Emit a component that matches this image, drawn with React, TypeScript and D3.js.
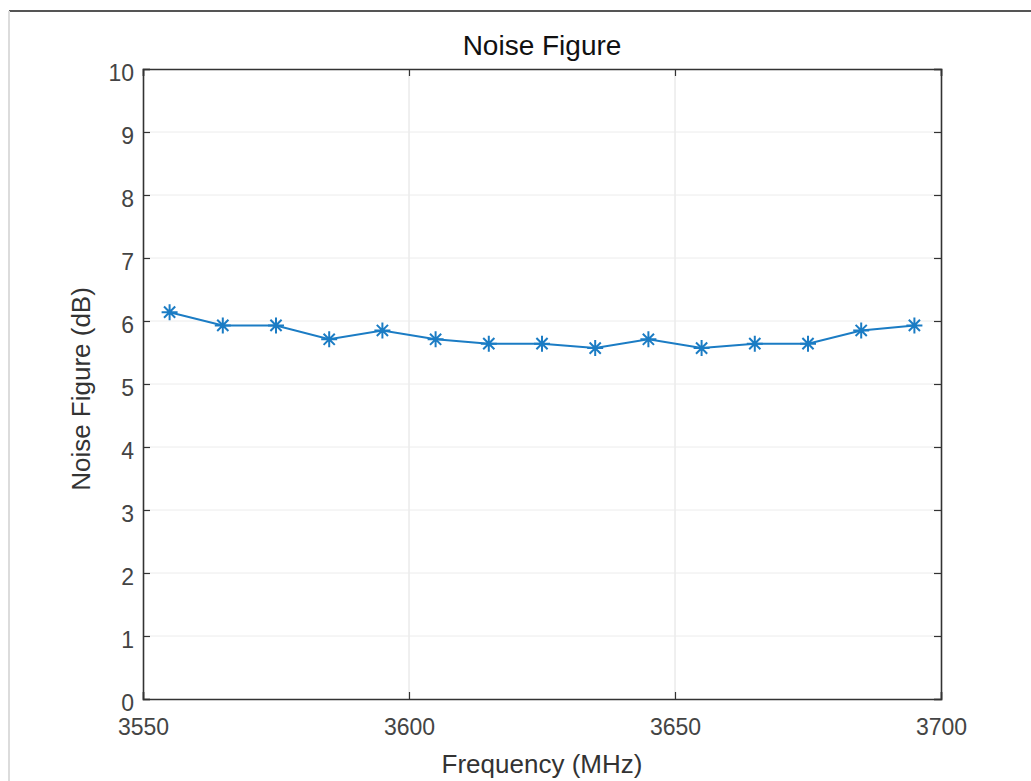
import { useEffect, useRef } from "react";
import * as d3 from "d3";

const frequencies = [3555, 3565, 3575, 3585, 3595, 3605, 3615, 3625, 3635, 3645, 3655, 3665, 3675, 3685, 3695];
const noiseFigure = [6.14, 5.93, 5.93, 5.71, 5.85, 5.71, 5.64, 5.64, 5.57, 5.71, 5.57, 5.64, 5.64, 5.85, 5.93];
const xTicks = [3550, 3600, 3650, 3700];
const yTicks = [0, 1, 2, 3, 4, 5, 6, 7, 8, 9, 10];

function App() {
  const canvas = useRef<SVGSVGElement>(null);

  const drawChart = () => {
    const width = 1031;
    const height = 781;
    const margin = { top: 69, left: 143, bottom: 82, right: 90 };
    const iwidth = width - margin.left - margin.right;
    const iheight = height - margin.top - margin.bottom;
    const axisColor = "#333";
    const lineColor = "#1b7cc4";
    const font = "'Liberation Sans', Arial, sans-serif";

    const svg = d3.select(canvas.current!);
    svg.selectAll("*").remove();
    svg.attr("width", width).attr("height", height);

    svg.append("rect").attr("width", width).attr("height", height).attr("fill", "#fff");
    // page frame
    svg.append("line").attr("x1", 9).attr("x2", width).attr("y1", 11).attr("y2", 11)
      .attr("stroke", "#555").attr("stroke-width", 2);
    svg.append("line").attr("x1", 9).attr("x2", 9).attr("y1", 11).attr("y2", height)
      .attr("stroke", "#dcdcdc").attr("stroke-width", 2);

    const x = d3.scaleLinear().domain([3550, 3700]).range([0, iwidth]);
    const y = d3.scaleLinear().domain([0, 10]).range([iheight, 0]);

    const g = svg.append("g").attr("transform", `translate(${margin.left}, ${margin.top})`);

    // grid
    g.selectAll(".gx").data(xTicks.slice(1, -1)).join("line")
      .attr("x1", d => x(d)).attr("x2", d => x(d)).attr("y1", 0).attr("y2", iheight)
      .attr("stroke", "#e0e0e0").attr("stroke-width", 1);
    g.selectAll(".gy").data(yTicks.slice(1, -1)).join("line")
      .attr("y1", d => y(d)).attr("y2", d => y(d)).attr("x1", 0).attr("x2", iwidth)
      .attr("stroke", "#ececec").attr("stroke-width", 1);

    // axes with inward ticks on all sides
    const tickLen = 7;
    const xAxis = d3.axisBottom(x).tickValues(xTicks).tickSize(-tickLen).tickPadding(tickLen + 13).tickFormat(d3.format("d"));
    const yAxis = d3.axisLeft(y).tickValues(yTicks).tickSize(-tickLen).tickPadding(9).tickFormat(d3.format("d"));
    const xTop = d3.axisTop(x).tickValues(xTicks).tickSize(-tickLen).tickFormat(() => "");
    const yRight = d3.axisRight(y).tickValues(yTicks).tickSize(-tickLen).tickFormat(() => "");

    const styleAxis = (sel: any) => {
      sel.selectAll("path").attr("stroke", axisColor).attr("stroke-width", 1.6);
      sel.selectAll("line").attr("stroke", axisColor).attr("stroke-width", 1.2);
      sel.selectAll("text").attr("fill", "#444").attr("font-size", 23).attr("font-family", font);
    };

    g.append("g").attr("transform", `translate(0, ${iheight})`).call(xAxis).call(styleAxis);
    const ya = g.append("g").call(yAxis).call(styleAxis);
    ya.selectAll("text").attr("dy", "0.5em");
    g.append("g").call(xTop).call(styleAxis);
    g.append("g").attr("transform", `translate(${iwidth}, 0)`).call(yRight).call(styleAxis);

    // line
    const pts = frequencies.map((f, i) => [f, noiseFigure[i]] as [number, number]);
    const line = d3.line<[number, number]>().x(d => x(d[0])).y(d => y(d[1]));
    g.append("path").datum(pts).attr("d", line).attr("fill", "none")
      .attr("stroke", lineColor).attr("stroke-width", 2);

    // asterisk markers
    const r = 8;
    const star = `M${-r},0L${r},0M0,${-r}L0,${r}M${-r * 0.7},${-r * 0.7}L${r * 0.7},${r * 0.7}M${-r * 0.7},${r * 0.7}L${r * 0.7},${-r * 0.7}`;
    g.selectAll(".mark").data(pts).join("path")
      .attr("transform", d => `translate(${x(d[0])}, ${y(d[1])})`)
      .attr("d", star).attr("stroke", lineColor).attr("stroke-width", 2).attr("fill", "none");

    // labels
    svg.append("text").attr("x", margin.left + iwidth / 2).attr("y", 55)
      .attr("text-anchor", "middle").attr("font-size", 28).attr("font-family", font)
      .attr("fill", "#111").text("Noise Figure");
    svg.append("text").attr("x", margin.left + iwidth / 2).attr("y", 773)
      .attr("text-anchor", "middle").attr("font-size", 26).attr("font-family", font)
      .attr("fill", "#333").text("Frequency (MHz)");
    svg.append("text").attr("transform", `translate(90, ${margin.top + iheight / 2 + 5}) rotate(-90)`)
      .attr("text-anchor", "middle").attr("font-size", 26).attr("font-family", font)
      .attr("fill", "#333").text("Noise Figure (dB)");
  };

  useEffect(() => {
    drawChart();
  }, []);

  return (
    <svg ref={canvas} style={{ position: "absolute", left: 0, top: 0 }} />
  );
}

export default App;
